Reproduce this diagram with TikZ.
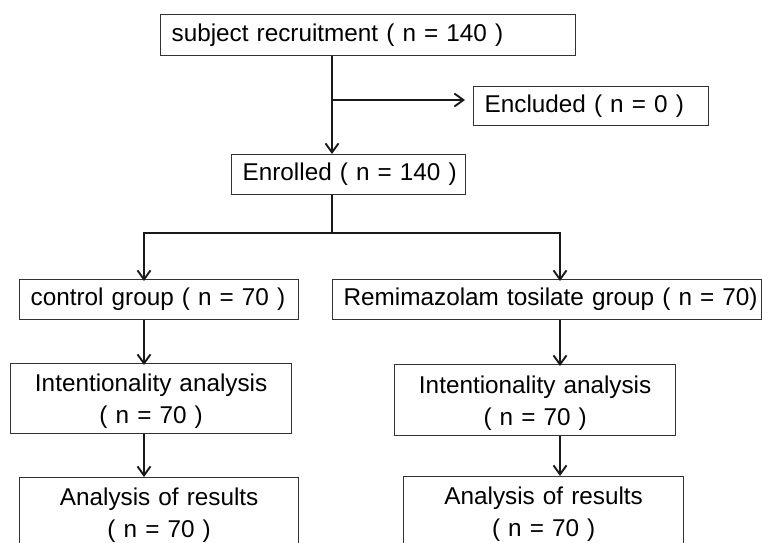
\documentclass[tikz,border=0pt]{standalone}
\usepackage{fontspec}
\setmainfont{Liberation Sans}
\usetikzlibrary{arrows.meta}
\begin{document}
\begin{tikzpicture}[x=1pt,y=-1pt,
  box/.style={draw=black!80, line width=1.3pt, anchor=north west, inner xsep=11pt, inner ysep=0pt,
    font=\fontsize{24.3}{32}\selectfont, text=black},
  lbox/.style={box, align=left},
  cbox/.style={box, align=center},
  conn/.style={line width=1.9pt, draw=black!90},
  arr/.style={conn, -{Straight Barb[length=9pt,width=13pt]}}
]
\useasboundingbox (0,0) rectangle (762,542);

\node[lbox, minimum width=415pt, minimum height=41pt, text width=393pt] (subject) at (160,14) {\mbox{subject recruitment ( n = 140 )}};
\node[lbox, minimum width=235pt, minimum height=39pt, text width=213pt] (excl) at (473,86) {\mbox{Encluded ( n = 0 )}};
\node[lbox, minimum width=234pt, minimum height=40pt, text width=212pt] (enrolled) at (231,154) {\mbox{Enrolled ( n = 140 )}};
\node[lbox, minimum width=279pt, minimum height=40pt, text width=257pt] (control) at (19,279) {\mbox{control group ( n = 70 )}};
\node[lbox, minimum width=429pt, minimum height=40pt, text width=413pt, inner xsep=8pt] (remi) at (332,279) {\mbox{\hspace{3pt}Remimazolam tosilate group ( n = 70)}};
\node[cbox, minimum width=281pt, minimum height=70pt, text width=259pt] (intL) at (10,363) {\rule{0pt}{23pt}Intentionality analysis\\( n = 70 )};
\node[cbox, minimum width=281pt, minimum height=71pt, text width=259pt] (intR) at (394,364) {\rule{0pt}{23pt}Intentionality analysis\\( n = 70 )};
\node[cbox, minimum width=279pt, minimum height=70pt, text width=257pt] (anaL) at (19,477) {\rule{0pt}{23pt}Analysis of results\\( n = 70 )};
\node[cbox, minimum width=280pt, minimum height=70pt, text width=258pt] (anaR) at (403,476) {\rule{0pt}{23pt}Analysis of results\\( n = 70 )};

\coordinate (sp) at (332,0);
\coordinate (exstart) at (332,100);
\coordinate (exend) at (465,100);
\coordinate (br) at (332,233);
\coordinate (bl) at (144,233);
\coordinate (brr) at (560,233);
\coordinate (lx) at (144,0);
\coordinate (rx) at (560,0);

\draw[arr] (sp |- subject.south) -- (sp |- enrolled.north);
\draw[arr] (exstart) -- (exend);
\draw[conn] (sp |- enrolled.south) -- (br);
\draw[conn, {Straight Barb[length=9pt,width=13pt]}-{Straight Barb[length=9pt,width=13pt]}]
  ([yshift=-2pt]bl |- control.north) -- (bl) -- (brr) -- ([yshift=-2pt]brr |- remi.north);
\draw[arr] (lx |- control.south) -- ([yshift=-2pt]lx |- intL.north);
\draw[arr] (lx |- intL.south) -- (lx |- anaL.north);
\draw[arr] (rx |- remi.south) -- ([yshift=-2pt]rx |- intR.north);
\draw[arr] (rx |- intR.south) -- (rx |- anaR.north);
\end{tikzpicture}
\end{document}
